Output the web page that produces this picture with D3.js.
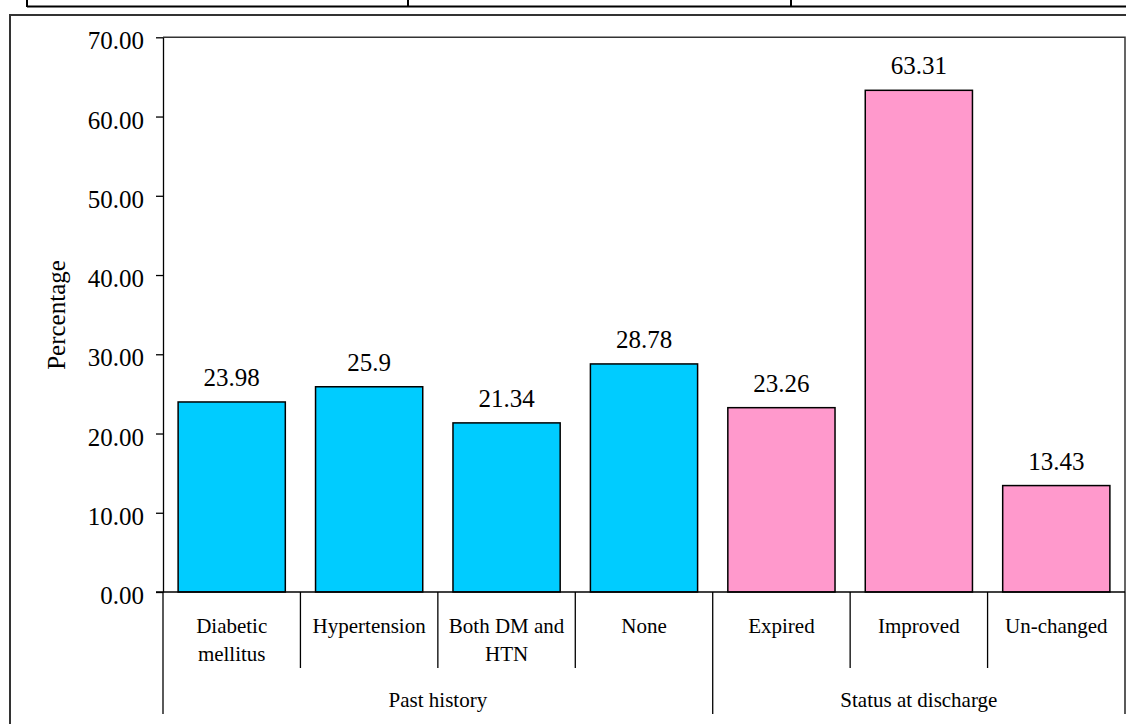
<!DOCTYPE html>
<html>
<head>
<meta charset="utf-8">
<script src="https://cdn.jsdelivr.net/npm/d3@7"></script>
<style>
  html, body { margin: 0; padding: 0; background: #fff; }
  svg { display: block; }
  text { font-family: "Liberation Serif", "Times New Roman", serif; fill: #000; }
</style>
</head>
<body>
<svg id="chart" width="1126" height="724"></svg>
<script>
// Categories (two-level axis) and their percentages
const categories = ["Diabetic mellitus", "Hypertension", "Both DM and HTN", "None", "Expired", "Improved", "Un-changed"];
const categoryLines = [["Diabetic", "mellitus"], ["Hypertension"], ["Both DM and", "HTN"], ["None"], ["Expired"], ["Improved"], ["Un-changed"]];
const groups = ["Past history", "Past history", "Past history", "Past history", "Status at discharge", "Status at discharge", "Status at discharge"];
const groupNames = ["Past history", "Status at discharge"];
const values = [23.98, 25.9, 21.34, 28.78, 23.26, 63.31, 13.43];
const valueLabels = ["23.98", "25.9", "21.34", "28.78", "23.26", "63.31", "13.43"];
const yTicks = [0, 10, 20, 30, 40, 50, 60, 70];
const groupColors = { "Past history": "#00CCFF", "Status at discharge": "#FF99CC" };

const serif = "'Liberation Serif', 'Times New Roman', serif";
const svg = d3.select("#chart");

// Table rules above the chart frame
const topRule = svg.append("g").attr("stroke", "#000").attr("stroke-width", 2);
topRule.append("line").attr("x1", 27).attr("x2", 1126).attr("y1", 6.5).attr("y2", 6.5);
[27, 408, 791].forEach(x => {
  topRule.append("line").attr("x1", x).attr("x2", x).attr("y1", 0).attr("y2", 7);
});

// Chart frame
svg.append("rect")
  .attr("x", 10).attr("y", 15)
  .attr("width", 1130).attr("height", 720)
  .attr("fill", "none").attr("stroke", "#333").attr("stroke-width", 2);

const plot = { left: 163, right: 1125, top: 37.3, bottom: 592 };

const x = d3.scaleBand()
  .domain(categories)
  .range([plot.left, plot.right])
  .paddingInner(0.22)
  .paddingOuter(0.11);

const y = d3.scaleLinear()
  .domain([0, 70])
  .range([plot.bottom, plot.top]);

// Plot area border (top and right)
svg.append("path")
  .attr("d", `M${plot.left},${plot.top}H${plot.right}V${plot.bottom}`)
  .attr("fill", "none").attr("stroke", "#333").attr("stroke-width", 1.5);

// Bars
svg.append("g").selectAll("rect")
  .data(categories)
  .join("rect")
  .attr("x", d => x(d))
  .attr("width", x.bandwidth())
  .attr("y", (d, i) => y(values[i]))
  .attr("height", (d, i) => y(0) - y(values[i]))
  .attr("fill", (d, i) => groupColors[groups[i]])
  .attr("stroke", "#000")
  .attr("stroke-width", 1.5);

// Value labels
svg.append("g").selectAll("text")
  .data(categories)
  .join("text")
  .attr("x", d => x(d) + x.bandwidth() / 2)
  .attr("y", (d, i) => y(values[i]) - 16)
  .attr("text-anchor", "middle")
  .style("font-family", serif)
  .style("font-size", "25px")
  .text((d, i) => valueLabels[i]);

// Y axis
const yAxis = svg.append("g")
  .attr("transform", `translate(${plot.left},0)`)
  .call(d3.axisLeft(y).tickValues(yTicks).tickFormat(d3.format(".2f")).tickSize(7).tickSizeOuter(0).tickPadding(12));
yAxis.select(".domain").attr("stroke", "#000").attr("stroke-width", 1.3);
yAxis.selectAll(".tick line").attr("stroke", "#000").attr("stroke-width", 1.3);
yAxis.selectAll(".tick text")
  .attr("dy", null)
  .attr("y", 11.5)
  .style("font-size", "25px")
  .style("font-family", serif)
  .attr("fill", "#000");

// Y axis title
svg.append("text")
  .attr("transform", "translate(65,315) rotate(-90)")
  .attr("text-anchor", "middle")
  .style("font-family", serif)
  .style("font-size", "25px")
  .text("Percentage");

// X axis line
svg.append("line")
  .attr("x1", plot.left - 7).attr("x2", plot.right)
  .attr("y1", plot.bottom).attr("y2", plot.bottom)
  .attr("stroke", "#000").attr("stroke-width", 1.3);

// Category dividers and labels
const gap = (x.step() - x.bandwidth()) / 2;
const leftEdge = d => x(d) - gap;
const axisG = svg.append("g").attr("stroke", "#000").attr("stroke-width", 1.3);

categories.forEach((d, i) => {
  if (i === 0) return;
  const groupBreak = groups[i] !== groups[i - 1];
  axisG.append("line")
    .attr("x1", leftEdge(d)).attr("x2", leftEdge(d))
    .attr("y1", plot.bottom).attr("y2", groupBreak ? 714 : 668);
});
// Outer edges of the two-level axis
axisG.append("line").attr("x1", plot.left).attr("x2", plot.left).attr("y1", plot.bottom).attr("y2", 714);
axisG.append("line").attr("x1", plot.right).attr("x2", plot.right).attr("y1", plot.bottom).attr("y2", 714);

const catLabels = svg.append("g").selectAll("text")
  .data(categories)
  .join("text")
  .attr("text-anchor", "middle")
  .attr("y", 633)
  .style("font-family", serif)
  .style("font-size", "21px");
catLabels.each(function (d, i) {
  const t = d3.select(this);
  categoryLines[i].forEach((line, j) => {
    t.append("tspan")
      .attr("x", x(d) + x.bandwidth() / 2)
      .attr("dy", j === 0 ? 0 : 28)
      .text(line);
  });
});

// Group labels
groupNames.forEach(g => {
  const members = categories.filter((d, i) => groups[i] === g);
  const x0 = leftEdge(members[0]);
  const x1 = leftEdge(members[members.length - 1]) + x.step();
  svg.append("text")
    .attr("x", (x0 + x1) / 2)
    .attr("y", 707)
    .attr("text-anchor", "middle")
    .style("font-family", serif)
    .style("font-size", "21px")
    .text(g);
});
</script>
</body>
</html>
